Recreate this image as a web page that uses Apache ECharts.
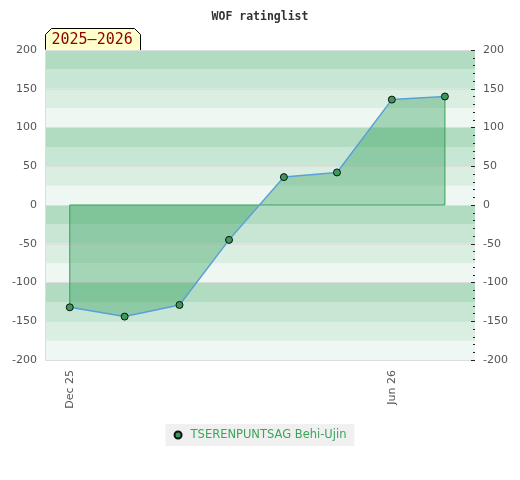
<!DOCTYPE html>
<html><head><meta charset="utf-8">
<script src="https://cdn.jsdelivr.net/npm/echarts@6/dist/echarts.min.js"></script>
<style>html,body{margin:0;padding:0;background:#fff}#c{width:520px;height:480px}</style>
</head><body><div id="c"></div>
<script>
const titleText = 'WOF ratinglist';
const seasonText = '2025–2026';
const seriesName = 'TSERENPUNTSAG Behi-Ujin';
const dates = ['2025-12-01','2026-01-01','2026-02-01','2026-03-01','2026-04-01','2026-05-01','2026-06-01','2026-07-01'];
const values = [-132, -144, -129, -45, 36, 42, 136, 140];
const xMin = '2025-11-17', xMax = '2026-07-18';
const yMin = -200, yMax = 200, yStep = 50, bandStep = 25;
const monthNames = ['Jan','Feb','Mar','Apr','May','Jun','Jul','Aug','Sep','Oct','Nov','Dec'];
const labelMonths = [11, 5];

const lineData = dates.map((d, i) => [d, values[i]]);
const n = dates.length;
const outline = [[dates[n-1], values[n-1]], [dates[n-1], 0], [dates[0], 0], [dates[0], values[0]]];

const chart = echarts.init(document.getElementById('c'), null, {renderer: 'canvas'});
const lab = {color: '#555', fontSize: 11, fontFamily: 'DejaVu Sans'};
chart.setOption({
  animation: false,
  title: {text: titleText, left: 'center', top: 6,
    textStyle: {fontFamily: 'DejaVu Sans Mono', fontWeight: 'bold', fontSize: 11.5, color: '#333'}},
  grid: {left: 45, right: 45, top: 50, bottom: 120},
  legend: {data: [seriesName], bottom: 34, left: 'center', backgroundColor: '#f0f0f0',
    padding: [5, 8, 5, 8], icon: 'circle', itemWidth: 7, itemHeight: 7, itemGap: 6,
    textStyle: {color: '#3aa55a', fontSize: 11.5, fontFamily: 'DejaVu Sans', padding: [0, 0, 0, 4]}},
  xAxis: {type: 'time', min: xMin, max: xMax, maxInterval: 31 * 86400000, minInterval: 28 * 86400000,
    axisLine: {show: true, lineStyle: {color: '#ddd'}}, axisTick: {show: false}, splitLine: {show: false},
    axisLabel: Object.assign({}, lab, {rotate: 90, margin: 10, showMinLabel: false, showMaxLabel: false,
      hideOverlap: false,
      formatter: function (v) {
        const d = new Date(v);
        if (d.getDate() === 1 && labelMonths.indexOf(d.getMonth()) >= 0)
          return monthNames[d.getMonth()] + ' ' + String(d.getFullYear()).slice(2);
        return '';
      }})},
  yAxis: [
    {type: 'value', min: yMin, max: yMax, interval: bandStep, position: 'left',
      axisLine: {show: true, lineStyle: {color: '#ddd'}}, axisTick: {show: false},
      axisLabel: Object.assign({}, lab, {formatter: v => (v % yStep === 0 ? String(v) : '')}),
      splitLine: {show: false},
      splitArea: {show: true, areaStyle: {color: ['#eef7f1', '#dbeee2', '#c8e6d4', '#b2dcc2']}}},
    {type: 'value', min: yMin, max: yMax, interval: yStep, position: 'right',
      axisLine: {show: false}, axisTick: {show: true, inside: true, length: 4, lineStyle: {color: '#222'}},
      minorTick: {show: true, splitNumber: 5, length: 2, lineStyle: {color: '#222'}},
      axisLabel: Object.assign({}, lab, {margin: 8}),
      splitLine: {show: true, lineStyle: {color: '#dedede', width: 1}}}
  ],
  graphic: [{
    type: 'group', left: 45, top: 28, children: [
      {type: 'polygon', shape: {points: [[0, 22], [0, 6], [6, 0], [89, 0], [95, 6], [95, 22]]},
        style: {fill: '#ffffcc', stroke: '#000', lineWidth: 1}},
      {type: 'text', left: 6, top: 4, style: {text: seasonText, fill: '#8b0000', font: '15px "DejaVu Sans Mono"'}}
    ]}],
  series: [
    {type: 'line', name: 'outline', data: outline, yAxisIndex: 0, symbol: 'none', silent: true,
      lineStyle: {color: '#3a9a5a', width: 1}, z: 2},
    {type: 'line', name: seriesName, data: lineData, yAxisIndex: 0, symbol: 'circle', symbolSize: 7,
      itemStyle: {color: '#3a9a5a', borderColor: '#111', borderWidth: 1},
      lineStyle: {color: '#5aa0d8', width: 1.5},
      areaStyle: {color: 'rgba(50,160,90,0.55)', origin: 0}, z: 3}
  ]
});
</script></body></html>
